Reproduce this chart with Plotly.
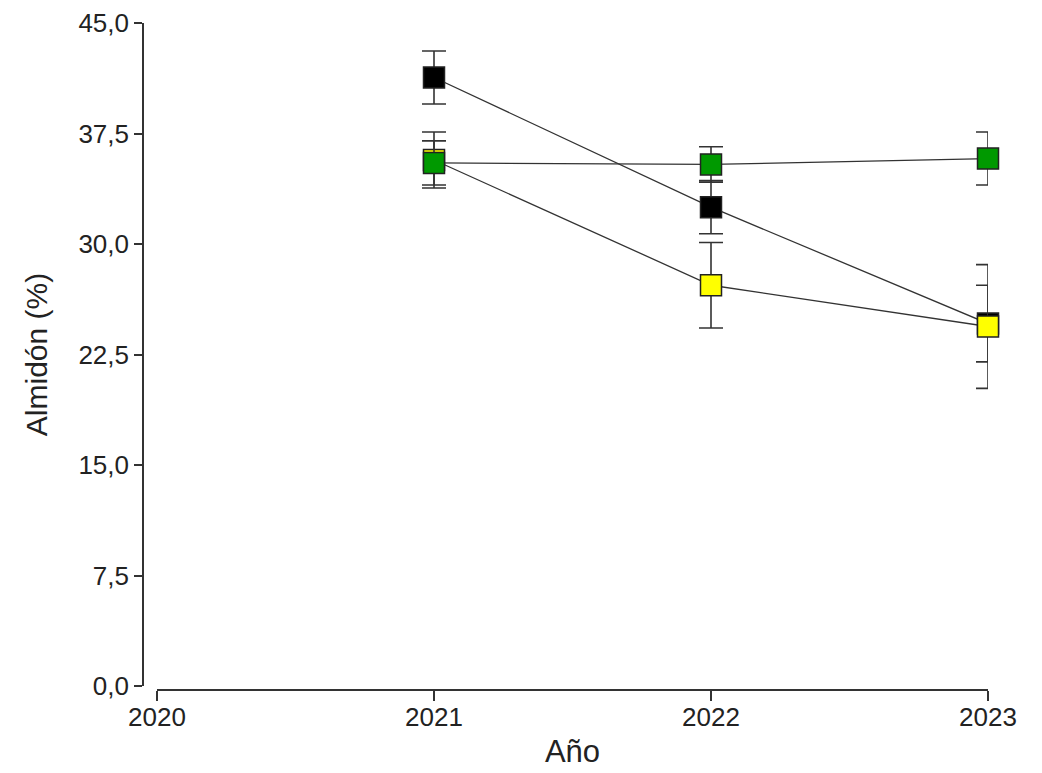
import plotly.graph_objects as go

years = [2021, 2022, 2023]
x_ticks = [2020, 2021, 2022, 2023]
y_ticks = [0, 7.5, 15, 22.5, 30, 37.5, 45]
y_ticktext = ["0,0", "7,5", "15,0", "22,5", "30,0", "37,5", "45,0"]

black_vals = [41.3, 32.5, 24.6]
black_err = [1.8, 1.8, 2.6]
yellow_vals = [35.7, 27.2, 24.4]
yellow_err = [1.9, 2.9, 4.2]
green_vals = [35.5, 35.4, 35.8]
green_err = [1.5, 1.2, 1.8]

series = [
    ("Negro", black_vals, black_err, "#000000"),
    ("Amarillo", yellow_vals, yellow_err, "#FFFF00"),
    ("Verde", green_vals, green_err, "#009900"),
]

fig = go.Figure()
for name, vals, errs, col in series:
    fig.add_trace(go.Scatter(
        x=years, y=vals, name=name, mode="lines+markers",
        line=dict(color="#333333", width=1.3),
        marker=dict(symbol="square", size=21, color=col,
                    line=dict(color="#222222", width=1.5)),
        error_y=dict(type="data", array=errs, visible=True,
                     color="#333333", thickness=1.6, width=12),
        cliponaxis=False,
        showlegend=False,
    ))

# page body has an 8px default margin
W, H = 1034, 765
ml, mr, mt, mb = 135, 54, 15, 83
pw = W - ml - mr
ph = H - mt - mb

font_col = "#222222"
fig.update_layout(
    width=W, height=H,
    margin=dict(l=ml, r=mr, t=mt, b=mb, pad=0),
    paper_bgcolor="white", plot_bgcolor="white",
    font=dict(family="Liberation Sans, Arial, sans-serif", size=26, color=font_col),
    xaxis=dict(
        domain=[14 / pw, 1], range=[2020, 2023], anchor="free", position=0,
        tickvals=x_ticks, ticktext=[str(v) for v in x_ticks],
        showline=True, linecolor="#333333", linewidth=1.6,
        ticks="outside", ticklen=10, tickwidth=1.6, tickcolor="#333333",
        showgrid=False, zeroline=False, automargin=False,
        ticklabelstandoff=-6,
        title=dict(text="Año", standoff=8, font=dict(size=31)),
        tickfont=dict(size=26),
    ),
    yaxis=dict(
        domain=[4 / ph, 1], range=[0, 45], anchor="free", position=0,
        tickvals=y_ticks, ticktext=y_ticktext,
        showline=True, linecolor="#333333", linewidth=1.6,
        ticks="outside", ticklen=8, tickwidth=1.6, tickcolor="#333333",
        showgrid=False, zeroline=False, automargin=False,
        title=dict(text="Almidón (%)", standoff=21, font=dict(size=30)),
        tickfont=dict(size=26),
    ),
)

fig.write_html("out.html")
